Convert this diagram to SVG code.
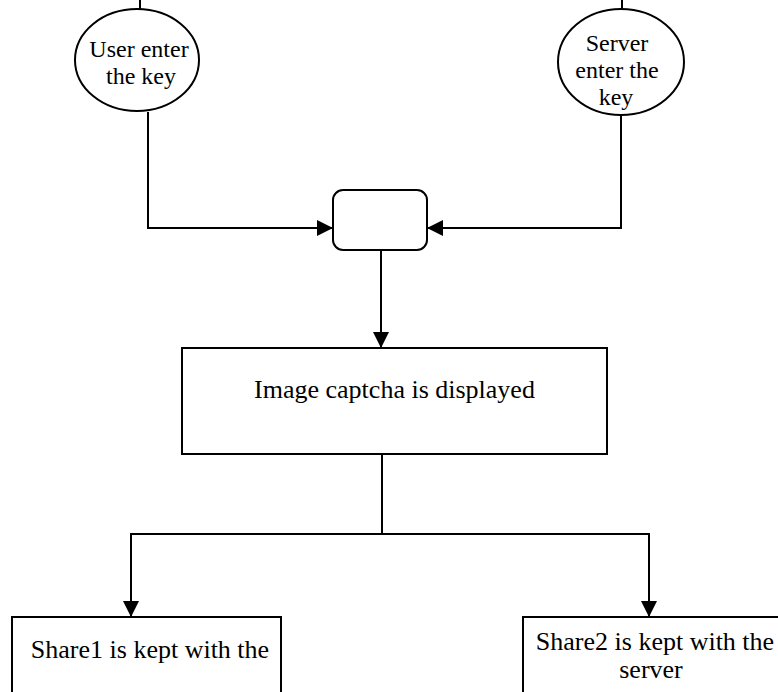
<svg xmlns="http://www.w3.org/2000/svg" width="778" height="692" viewBox="0 0 778 692">
  <style>
    .shape { fill: #ffffff; stroke: #000000; stroke-width: 2; }
    .wire { fill: none; stroke: #000000; stroke-width: 2; }
    .label { font-family: "Liberation Serif", "Times New Roman", serif; fill: #000000; text-anchor: middle; }
    .big { font-size: 26px; }
    .oval { font-size: 24px; }
  </style>
  <defs>
    <marker id="arrow" viewBox="0 0 16 16" refX="16" refY="8" markerWidth="16" markerHeight="16" markerUnits="userSpaceOnUse" orient="auto">
      <path d="M0,0 L16,8 L0,16 Z" fill="#000000"/>
    </marker>
  </defs>
  <rect width="778" height="692" fill="#ffffff"/>

  <g id="connectors">
    <!-- short stubs above the two key ovals -->
    <line class="wire" x1="140" y1="0" x2="140" y2="10"/>
    <line class="wire" x1="622" y1="0" x2="622" y2="9"/>
    <!-- both keys feed the comparison box -->
    <polyline class="wire" points="148,112 148,228 333,228" marker-end="url(#arrow)"/>
    <polyline class="wire" points="621,114 621,228 427,228" marker-end="url(#arrow)"/>
    <!-- comparison to captcha display -->
    <line class="wire" x1="381" y1="250" x2="381" y2="348" marker-end="url(#arrow)"/>
    <!-- captcha split into two shares -->
    <line class="wire" x1="382" y1="454" x2="382" y2="534"/>
    <line class="wire" x1="130" y1="534" x2="650" y2="534"/>
    <line class="wire" x1="131" y1="534" x2="131" y2="617" marker-end="url(#arrow)"/>
    <line class="wire" x1="649" y1="534" x2="649" y2="617" marker-end="url(#arrow)"/>
  </g>

  <g id="user-key">
    <ellipse class="shape" cx="137" cy="60" rx="62" ry="51"/>
    <text class="label oval" x="139" y="57">User enter</text>
    <text class="label oval" x="141" y="84">the key</text>
  </g>

  <g id="server-key">
    <ellipse class="shape" cx="621" cy="62" rx="63" ry="53"/>
    <text class="label oval" x="617" y="51">Server</text>
    <text class="label oval" x="617" y="78">enter the</text>
    <text class="label oval" x="616" y="105">key</text>
  </g>

  <g id="compare">
    <rect class="shape" x="333" y="190" width="94" height="60" rx="10" ry="10"/>
  </g>

  <g id="captcha">
    <rect class="shape" x="182" y="348" width="425" height="106"/>
    <text class="label big" x="394.5" y="398">Image captcha is displayed</text>
  </g>

  <g id="share1">
    <rect class="shape" x="12" y="617" width="269" height="90"/>
    <text class="label big" x="150" y="658">Share1 is kept with the</text>
  </g>

  <g id="share2">
    <rect class="shape" x="523" y="617" width="270" height="90"/>
    <text class="label big" x="655" y="650">Share2 is kept with the</text>
    <text class="label big" x="651" y="678">server</text>
  </g>
</svg>
